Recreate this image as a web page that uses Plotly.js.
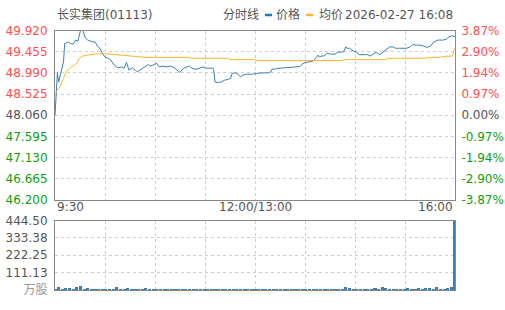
<!DOCTYPE html>
<html>
<head>
<meta charset="utf-8">
<script src="https://cdn.plot.ly/plotly-3.0.1.min.js"></script>
<style>
html,body{margin:0;padding:0;background:#fff;}
#chart{width:505px;height:310px;}
</style>
</head>
<body>
<div id="chart"></div>
<script>
// ---- data ----
const stockTitle = "长实集团(01113)";
const legendLabels = ["分时线", "价格", "均价"];
const stamp = "2026-02-27 16:08";
const prevClose = 48.06;
const xLabels = ["9:30", "12:00/13:00", "16:00"];
const priceTicks = [46.200, 46.665, 47.130, 47.595, 48.060, 48.525, 48.990, 49.455, 49.920];
const pctTicks = [-3.87, -2.90, -1.94, -0.97, 0.00, 0.97, 1.94, 2.90, 3.87];
const volTicks = [0, 111.13, 222.25, 333.38, 444.50];
const volUnit = "万股";

const priceTime = [0,2,3,5,7,8,11,13,15,17,19,21,23,25,27,31,33,35,37,39,41,44,46,49,52,55,57,59,61,64,66,68,71,74,77,79,82,84,86,89,92,95,97,100,103,106,108,111,113,116,119,122,124,127,130,131,132,134,137,140,143,145,146,149,151,153,155,158,161,163,167,170,176,178,179,181,184,187,191,194,198,202,204,206,209,213,215,217,218,220,222,224,228,231,233,236,238,240,241,243,246,249,251,256,258,260,262,265,268,271,273,276,279,281,284,290,293,295,298,301,304,307,310,312,316,320,323,325,327,329,330];
const price = [48.06,48.99,48.79,49.01,49.23,49.63,49.67,49.63,49.62,49.71,49.69,49.92,49.92,49.76,49.71,49.67,49.67,49.58,49.53,49.42,49.34,49.31,49.27,49.16,49.10,49.12,49.09,49.22,49.05,49.10,49.05,49.01,49.07,49.12,49.17,49.14,49.17,49.20,49.12,49.14,49.12,49.14,49.12,49.07,49.00,49.09,49.11,49.14,49.09,49.07,49.09,49.12,49.10,49.09,49.10,49.05,48.79,48.78,48.79,48.83,48.85,48.87,48.98,48.99,48.96,48.90,48.94,48.96,48.96,48.96,48.98,48.99,48.99,49.01,49.07,49.07,49.09,49.10,49.10,49.11,49.12,49.13,49.18,49.21,49.23,49.25,49.31,49.38,49.34,49.36,49.36,49.42,49.40,49.40,49.44,49.44,49.45,49.56,49.53,49.53,49.47,49.44,49.39,49.39,49.39,49.36,49.39,49.44,49.39,49.45,49.51,49.56,49.56,49.53,49.53,49.53,49.56,49.61,49.60,49.60,49.58,49.55,49.58,49.66,49.71,49.71,49.73,49.78,49.80,49.80,49.78];

const avgTime = [1,4,7,9,12,15,18,20,23,29,34,42,51,59,67,75,111,112,143,144,164,168,236,239,273,274,306,307,318,319,328,329,330];
const avgPrice = [48.57,48.68,48.87,49.01,49.09,49.14,49.20,49.31,49.36,49.39,49.41,49.41,49.39,49.36,49.35,49.33,49.33,49.31,49.31,49.28,49.28,49.26,49.26,49.28,49.28,49.31,49.31,49.33,49.33,49.35,49.36,49.49,49.53];

// volume, one bar per 3-minute slot from 9:30
const volume = [8,20,8,10,10,6,20,25,8,14,6,5,6,5,5,6,5,20,5,5,14,5,6,5,5,14,5,5,6,5,
5,5,6,5,5,5,6,5,5,5,5,6,5,5,5,6,5,5,5,5,6,5,5,5,5,6,5,5,5,5,
6,5,5,5,5,6,5,5,5,5,6,5,5,5,5,6,5,5,5,5,20,14,5,6,5,5,6,5,14,5,
20,14,5,5,6,5,5,14,5,5,14,5,14,14,5,20,5,6,14,20,444.5];
const volSlot = 3;
const totalMinutes = 330;

// ---- build ----
const W = 505, H = 310;
const px = v => v / W;
const py = v => 1 - v / H;
const RED = "#ff5050", GREEN = "#10a010", GRAY = "#555555";
const FONT = "DejaVu Sans, Noto Sans CJK SC, sans-serif";

const colorFor = (v, ref) => Math.abs(v - ref) < 1e-9 ? GRAY : (v > ref ? RED : GREEN);
const priceText = priceTicks.map(v => `<span style="color:${colorFor(v, prevClose)}">${v.toFixed(3)}</span>`);
const pctText = pctTicks.map(v => `<span style="color:${colorFor(v, 0)}">${v.toFixed(2)}%</span>`);
const volText = volTicks.map((v, i) => i === 0 ? `<span style="color:#999">${volUnit}</span>` : v.toFixed(2));

const volTime = volume.map((_, i) => i * volSlot);
const pct = price.map(p => (p / prevClose - 1) * 100);
const gridX = [0,1,2,3,4,5,6,7,8].map(i => i * totalMinutes / 8);

const traces = [
  {x: priceTime, y: price, type: "scatter", mode: "lines", line: {color: "#3b80b4", width: 1}, xaxis: "x", yaxis: "y", hoverinfo: "skip"},
  {x: avgTime, y: avgPrice, type: "scatter", mode: "lines", line: {color: "#ffb52e", width: 1}, xaxis: "x", yaxis: "y", hoverinfo: "skip"},
  {x: priceTime, y: pct, type: "scatter", mode: "none", xaxis: "x", yaxis: "y2", hoverinfo: "skip", showlegend: false},
  {x: volTime, y: volume, type: "bar", width: 2.6, marker: {color: "#3b80b4", line: {width: 0}}, xaxis: "x2", yaxis: "y3", hoverinfo: "skip"}
];

const gridCommon = {gridcolor: "#cfcfcf", griddash: "3px,3px", gridwidth: 1, zeroline: false};
const mainTop = 30.5, mainBot = 200, volTop = 220.5, volBot = 290;
const left = 55, right = 455;

const ann = (text, x, y, xanchor, xref, size) => ({text, xref: xref || "paper", yref: "paper", x, y, xanchor, yanchor: "middle",
  showarrow: false, font: {size: size || 12, color: GRAY, family: FONT}});

const layout = {
  width: W, height: H,
  margin: {l: 0, r: 0, t: 0, b: 0, pad: 0},
  paper_bgcolor: "#fff", plot_bgcolor: "#fff",
  showlegend: false,
  font: {family: FONT, size: 12, color: GRAY},
  xaxis: Object.assign({domain: [px(left), px(right)], range: [0, totalMinutes], tickvals: gridX, showticklabels: false, ticks: "",
    showline: true, mirror: true, linecolor: "#888", linewidth: 1, anchor: "y", fixedrange: true}, gridCommon),
  yaxis: Object.assign({domain: [py(mainBot), py(mainTop)], range: [priceTicks[0], priceTicks[8]], tickvals: priceTicks, ticktext: priceText,
    ticks: "outside", ticklen: 4, tickcolor: "rgba(0,0,0,0)", showline: true, mirror: true, linecolor: "#888", linewidth: 1,
    tickfont: {size: 12, family: FONT}, anchor: "x", fixedrange: true}, gridCommon),
  yaxis2: {overlaying: "y", side: "right", anchor: "x", range: [pctTicks[0], pctTicks[8]], tickvals: pctTicks, ticktext: pctText,
    showgrid: false, zeroline: false, ticks: "outside", ticklen: 3, tickcolor: "rgba(0,0,0,0)", tickfont: {size: 12, family: FONT}, fixedrange: true},
  xaxis2: Object.assign({domain: [px(left), px(right)], range: [0, totalMinutes], tickvals: gridX, showticklabels: false, ticks: "",
    showline: true, mirror: true, linecolor: "#888", linewidth: 1, anchor: "y3", fixedrange: true}, gridCommon),
  yaxis3: Object.assign({domain: [py(volBot), py(volTop)], range: [0, volTicks[4]], tickvals: volTicks, ticktext: volText,
    ticks: "outside", ticklen: 4, tickcolor: "rgba(0,0,0,0)", showline: true, mirror: true, linecolor: "#888", linewidth: 1,
    tickfont: {size: 12, family: FONT, color: GRAY}, anchor: "x2", fixedrange: true}, gridCommon),
  bargap: 0,
  annotations: [
    ann(stockTitle, px(55), py(15), "left"),
    ann(legendLabels[0], px(261), py(15), "right"),
    ann(legendLabels[1], px(274), py(15), "left"),
    ann(legendLabels[2], px(317), py(15), "left"),
    ann(stamp, px(455), py(15), "right"),
    ann(xLabels[0], 0, py(207), "left", "x"),
    ann(xLabels[1], totalMinutes / 2, py(207), "center", "x"),
    ann(xLabels[2], totalMinutes, py(207), "right", "x")
  ],
  shapes: [
    {type: "line", xref: "paper", yref: "paper", x0: px(265), x1: px(272), y0: py(15), y1: py(15), line: {color: "#1f77b4", width: 2.5}},
    {type: "line", xref: "paper", yref: "paper", x0: px(306), x1: px(313), y0: py(15), y1: py(15), line: {color: "#ffb52e", width: 2.5}}
  ]
};

Plotly.newPlot("chart", traces, layout, {staticPlot: true, displayModeBar: false});
</script>
</body>
</html>
